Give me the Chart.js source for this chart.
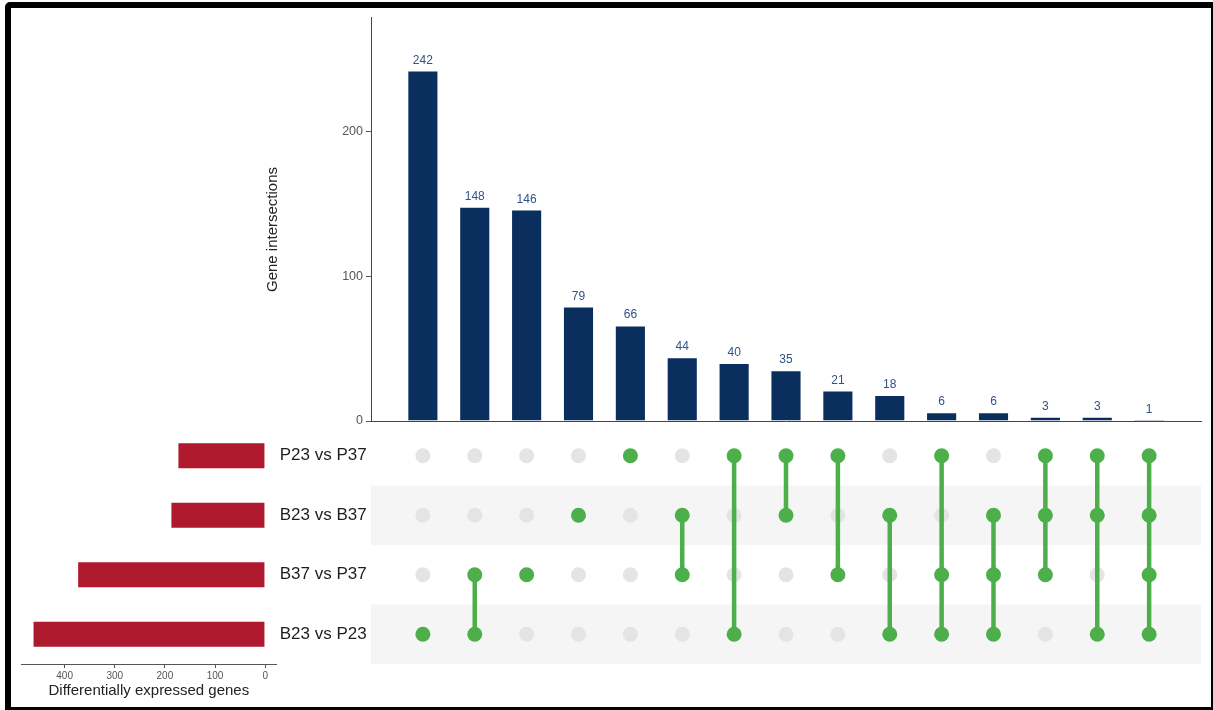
<!DOCTYPE html>
<html>
<head>
<meta charset="utf-8">
<title>Differentially expressed gene intersections</title>
<script src="https://cdn.jsdelivr.net/npm/chart.js@4/dist/chart.umd.min.js"></script>
<style>
  html, body { margin: 0; padding: 0; background: #fff; }
  #wrap { position: relative; width: 1213px; height: 710px; overflow: hidden; background: #fff; }
  #wrap canvas { position: absolute; }
  #frame {
    position: absolute; left: 5px; top: 2px; right: 0; bottom: 0;
    border-style: solid; border-color: #000;
    border-width: 6px 2px 3px 6px;
    border-top-left-radius: 5px;
    pointer-events: none;
  }
</style>
</head>
<body>
<div id="wrap">
  <canvas id="cTop" width="1213" height="440" style="left:0;top:0"></canvas>
  <canvas id="cMatrix" width="842" height="290" style="left:371px;top:420px"></canvas>
  <canvas id="cSets" width="371" height="290" style="left:0;top:420px"></canvas>
  <div id="frame"></div>
</div>
<script>
// Intersection sizes (one bar per combination), largest first
const intersectionSizes = [242, 148, 146, 79, 66, 44, 40, 35, 21, 18, 6, 6, 3, 3, 1];

// Comparisons, top row to bottom row
const setNames = ['P23 vs P37', 'B23 vs B37', 'B37 vs P37', 'B23 vs P23'];

// Total differentially expressed genes per comparison
const setSizes = [175, 189, 375, 464];

// Rows (indices into setNames) that take part in each intersection
const intersectionMembers = [
  [3], [2, 3], [2], [1], [0], [1, 2], [0, 3], [0, 1],
  [0, 2], [1, 3], [0, 2, 3], [1, 2, 3], [0, 1, 2], [0, 1, 3], [0, 1, 2, 3]
];

// Axis tick values
const intersectionTicks = [0, 100, 200];
const setTicks = [0, 100, 200, 300, 400];

const FONT = "'Liberation Sans', Arial, Helvetica, sans-serif";
const NAVY = '#0a2f5f';
const VALUE_BLUE = '#2f5288';
const RED = '#ae192d';
const GREEN = '#4daf4a';
const DOT_GRAY = '#e4e4e4';
const BAND_GRAY = '#f5f5f5';
const AXIS = '#555';

// column positions on a 0..N+1 linear scale, one unit apart
const colX = intersectionSizes.map((_, i) => i + 1);
const xMax = intersectionSizes.length + 1;

// ---------- value labels above the intersection bars ----------
const barLabels = {
  id: 'barLabels',
  afterDatasetsDraw(chart) {
    const { ctx } = chart;
    const meta = chart.getDatasetMeta(0);
    ctx.save();
    ctx.font = '12px ' + FONT;
    ctx.fillStyle = VALUE_BLUE;
    ctx.textAlign = 'center';
    ctx.textBaseline = 'alphabetic';
    meta.data.forEach((bar, i) => {
      ctx.fillText(String(intersectionSizes[i]), bar.x, bar.y - 7);
    });
    ctx.restore();
  }
};

// ---------- rotated y-axis title of the intersection chart ----------
const intersectionTitle = {
  id: 'intersectionTitle',
  afterDraw(chart) {
    const { ctx, chartArea: a } = chart;
    ctx.save();
    ctx.translate(a.left - 98, a.top + (a.bottom - a.top) * 0.526);
    ctx.rotate(-Math.PI / 2);
    ctx.font = '15px ' + FONT;
    ctx.fillStyle = '#222';
    ctx.textAlign = 'center';
    ctx.textBaseline = 'middle';
    ctx.fillText('Gene intersections', 0, 0);
    ctx.restore();
  }
};

// ---------- top: intersection size bars ----------
new Chart(document.getElementById('cTop'), {
  type: 'bar',
  data: {
    datasets: [{
      data: intersectionSizes.map((v, i) => ({ x: colX[i], y: v })),
      backgroundColor: NAVY,
      borderColor: 'rgba(255,255,255,0.35)',
      borderWidth: 1,
      barPercentage: 0.6,
      categoryPercentage: 1
    }]
  },
  options: {
    responsive: false,
    animation: false,
    layout: { autoPadding: false, padding: { left: 0, right: 12, top: 17, bottom: 19 } },
    plugins: { legend: { display: false }, tooltip: { enabled: false } },
    scales: {
      x: {
        type: 'linear', min: 0, max: xMax, offset: false,
        afterFit: s => { s.height = 0; s.paddingLeft = 0; s.paddingRight = 0; },
        ticks: { display: false },
        grid: { display: false, drawTicks: false, offset: false },
        border: { display: true, color: '#444', width: 1 }
      },
      y: {
        min: 0, max: 279,
        afterFit: s => { s.width = 371; s.paddingTop = 0; s.paddingBottom = 0; },
        afterBuildTicks: s => { s.ticks = intersectionTicks.map(v => ({ value: v })); },
        ticks: { color: AXIS, font: { size: 12.5, family: FONT }, padding: 3 },
        grid: { drawOnChartArea: false, drawTicks: true, tickLength: 5, color: AXIS },
        border: { color: '#444', width: 1 }
      }
    }
  },
  plugins: [barLabels, intersectionTitle]
});

// ---------- matrix: membership dots and connectors ----------
const grayDots = [];
const greenDots = [];
const connectors = [];
intersectionMembers.forEach((rows, c) => {
  setNames.forEach((_, r) => {
    const p = { x: colX[c], y: r + 0.5 };
    (rows.includes(r) ? greenDots : grayDots).push(p);
  });
  if (rows.length > 1) {
    connectors.push({
      data: [{ x: colX[c], y: Math.min(...rows) + 0.5 }, { x: colX[c], y: Math.max(...rows) + 0.5 }],
      showLine: true,
      borderColor: GREEN,
      borderWidth: 4.5,
      pointRadius: 0,
      order: 1
    });
  }
});

const rowBands = {
  id: 'rowBands',
  beforeDatasetsDraw(chart) {
    const { ctx, chartArea: a, scales: { y } } = chart;
    ctx.save();
    ctx.fillStyle = BAND_GRAY;
    setNames.forEach((_, r) => {
      if (r % 2 === 1) {
        const y0 = y.getPixelForValue(r);
        const y1 = y.getPixelForValue(r + 1);
        ctx.fillRect(a.left, y0, a.right - a.left, y1 - y0);
      }
    });
    ctx.restore();
  }
};

new Chart(document.getElementById('cMatrix'), {
  type: 'scatter',
  data: {
    datasets: [
      { data: greenDots, backgroundColor: GREEN, borderWidth: 0, pointRadius: 7.5, order: 0 },
      ...connectors,
      { data: grayDots, backgroundColor: DOT_GRAY, borderWidth: 0, pointRadius: 7.5, order: 2 }
    ]
  },
  options: {
    responsive: false,
    animation: false,
    layout: { autoPadding: false, padding: { left: 0, right: 12, top: 6, bottom: 46 } },
    plugins: { legend: { display: false }, tooltip: { enabled: false } },
    scales: {
      x: { type: 'linear', min: 0, max: xMax, display: false },
      y: { type: 'linear', min: 0, max: setNames.length, reverse: true, display: false }
    }
  },
  plugins: [rowBands]
});

// ---------- left: comparison sizes ----------
new Chart(document.getElementById('cSets'), {
  type: 'bar',
  data: {
    labels: setNames,
    datasets: [{
      data: setSizes,
      backgroundColor: RED,
      borderColor: 'rgba(255,255,255,0.3)',
      borderWidth: 1,
      barPercentage: 0.45,
      categoryPercentage: 1
    }]
  },
  options: {
    indexAxis: 'y',
    responsive: false,
    animation: false,
    layout: { autoPadding: false, padding: { left: 21, right: 0, top: 6, bottom: 6 } },
    plugins: { legend: { display: false }, tooltip: { enabled: false } },
    scales: {
      x: {
        type: 'linear', reverse: true, min: -23, max: 487,
        afterBuildTicks: s => { s.ticks = setTicks.map(v => ({ value: v })); },
        afterFit: s => { s.height = 40; s.paddingLeft = 0; s.paddingRight = 0; },
        ticks: { color: AXIS, font: { size: 10, family: FONT }, padding: 2, maxRotation: 0 },
        grid: { drawOnChartArea: false, tickLength: 4, color: AXIS },
        border: { color: AXIS, width: 1 },
        title: {
          display: true, text: 'Differentially expressed genes',
          color: '#222', font: { size: 15, family: FONT },
          padding: { top: 2, bottom: 4 }
        }
      },
      y: {
        position: 'right',
        afterFit: s => { s.width = 94.3; s.paddingTop = 0; s.paddingBottom = 0; },
        ticks: { color: '#1e1e1e', font: { size: 17, family: FONT }, padding: 3 },
        grid: { display: false, drawTicks: false },
        border: { display: false }
      }
    }
  }
});
</script>
</body>
</html>
